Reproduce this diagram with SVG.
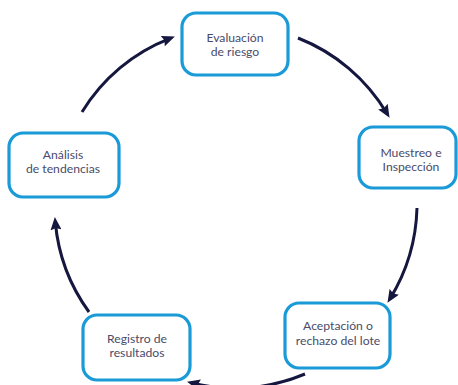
<svg xmlns="http://www.w3.org/2000/svg" width="458" height="385" viewBox="0 0 458 385">
  <defs>
    <marker id="head" viewBox="0 0 13 11" markerWidth="13" markerHeight="11" refX="8" refY="5.5" orient="auto" markerUnits="userSpaceOnUse">
      <path d="M0,0 L13,5.5 L0,11 L2,5.5 z" fill="#15173f"/>
    </marker>
    <style>
      .box { fill: #ffffff; stroke: #1b9ad8; stroke-width: 3.2; }
      .label { font-family: Lato, "Noto Sans", "Liberation Sans", sans-serif; font-size: 12.2px; fill: #4a4b6a; text-anchor: middle; }
      .arc { fill: none; stroke: #15173f; stroke-width: 3; marker-end: url(#head); }
    </style>
  </defs>

  <rect width="458" height="385" fill="#ffffff"/>

  <!-- cycle arrows -->
  <g id="connectors">
    <path class="arc" d="M298,38 A180,180 0 0,1 387,113.5"/>
    <path class="arc" d="M417,208 A183,183 0 0,1 390.1,298.6"/>
    <path class="arc" d="M305,374 A183,183 0 0,1 191.9,383"/>
    <path class="arc" d="M89,312 A180,180 0 0,1 55.3,222"/>
    <path class="arc" d="M82,112 A178,178 0 0,1 170.2,38.3"/>
  </g>

  <g id="evaluacion">
    <rect class="box" x="182" y="13" width="106" height="62" rx="14"/>
    <text class="label" x="235" y="42">Evaluación</text>
    <text class="label" x="235" y="56">de riesgo</text>
  </g>

  <g id="muestreo">
    <rect class="box" x="359" y="127" width="97" height="61" rx="14"/>
    <text class="label" x="411" y="157">Muestreo e</text>
    <text class="label" x="411" y="171">Inspección</text>
  </g>

  <g id="aceptacion">
    <rect class="box" x="285" y="303" width="105" height="65" rx="14"/>
    <text class="label" x="338" y="330">Aceptación o</text>
    <text class="label" x="338" y="345">rechazo del lote</text>
  </g>

  <g id="registro">
    <rect class="box" x="83" y="315" width="107" height="65" rx="14"/>
    <text class="label" x="137" y="343">Registro de</text>
    <text class="label" x="137" y="357">resultados</text>
  </g>

  <g id="analisis">
    <rect class="box" x="9" y="133" width="110" height="64" rx="14"/>
    <text class="label" x="63" y="159">Análisis</text>
    <text class="label" x="63" y="173">de tendencias</text>
  </g>
</svg>
